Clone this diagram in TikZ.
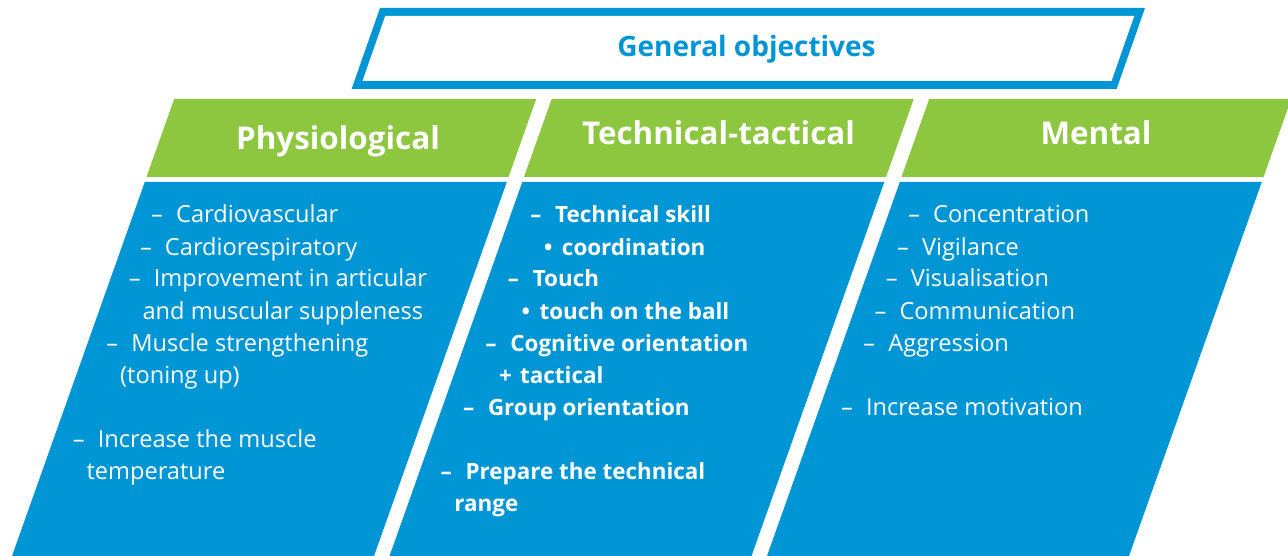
\documentclass[tikz,border=0pt]{standalone}
\usepackage{fontspec}
\setmainfont{Open Sans}
\definecolor{fblue}{RGB}{0,150,214}
\definecolor{fgreen}{RGB}{141,198,63}
\newcommand\dsh{\makebox[23pt][l]{\hspace{-2pt}–}}
\newcommand\blt{\makebox[18pt][l]{•}}
\newcommand\pls{\makebox[21pt][l]{+}}
\begin{document}
\begin{tikzpicture}[x=1pt,y=-1pt,
  body/.style={anchor=base west, inner sep=0pt, text=white, font=\fontsize{23.6}{28}\selectfont},
  bodyb/.style={body, font=\fontsize{22.4}{28}\selectfont\bfseries},
  head/.style={anchor=base, inner sep=0pt, text=white, font=\fontsize{31.4}{36}\selectfont\bfseries},
  title/.style={anchor=base, inner sep=0pt, text=fblue, font=\fontsize{28}{32}\selectfont\bfseries}]
\useasboundingbox (0,0) rectangle (1288,556);
\clip (0,0) rectangle (1288,556);
% title frame
\fill[fblue] (380,8) -- (1145,8) -- (1116.6,89) -- (351.6,89) -- cycle;
\fill[white] (385.2,16) -- (1134.2,16) -- (1111.5,81) -- (362.5,81) -- cycle;
\node[title] (gen) at (746.5,57) {General objectives};
% green headers
\fill[fgreen] (174.2,99) -- (536.2,99) -- (508.5,177) -- (146.5,177) -- cycle;
\fill[fgreen] (551.7,99) -- (913.7,99) -- (886,177) -- (524,177) -- cycle;
\fill[fgreen] (929.2,99) -- (1291.2,99) -- (1263.5,177) -- (901.5,177) -- cycle;
% blue bodies
\fill[fblue] (144.8,182) -- (506.8,182) -- (374,556) -- (12,556) -- cycle;
\fill[fblue] (522.3,182) -- (884.3,182) -- (751.5,556) -- (389.5,556) -- cycle;
\fill[fblue] (899.8,182) -- (1261.8,182) -- (1129,556) -- (767,556) -- cycle;
% headers
\node[head] (h1) at (338,150) {Physiological};
\node[head] (h2) at (718.5,145) {Technical-tactical};
\node[head] (h3) at (1096,145) {Mental};
% column 1
\node[body] (a0) at (153,223) {\dsh Cardiovascular};
\node[body] (a1) at (141.8,255) {\dsh Cardiorespiratory};
\node[body] (a2) at (130.6,287) {\dsh Improvement in articular};
\node[body] (a3) at (142.4,319) {and muscular suppleness};
\node[body] (a4) at (108.2,351) {\dsh Muscle strengthening};
\node[body] (a5) at (120,383) {(toning up)};
\node[body] (a7) at (74.6,447) {\dsh Increase the muscle};
\node[body] (a8) at (86.4,479) {temperature};
% column 2
\node[bodyb] (b0) at (532,223) {\dsh Technical skill};
\node[bodyb] (b1) at (543.8,255) {\blt coordination};
\node[bodyb] (b2) at (509.6,287) {\dsh Touch};
\node[bodyb] (b3) at (521.4,319) {\blt touch on the ball};
\node[bodyb] (b4) at (487.2,351) {\dsh Cognitive orientation};
\node[bodyb] (b5) at (499,383) {\pls tactical};
\node[bodyb] (b6) at (464.8,415) {\dsh Group orientation};
\node[bodyb] (b8) at (442.4,479) {\dsh Prepare the technical};
\node[bodyb] (b9) at (454.2,511) {range};
% column 3
\node[body] (c0) at (910,223) {\dsh Concentration};
\node[body] (c1) at (898.8,255) {\dsh Vigilance};
\node[body] (c2) at (887.6,287) {\dsh Visualisation};
\node[body] (c3) at (876.4,319) {\dsh Communication};
\node[body] (c4) at (865.2,351) {\dsh Aggression};
\node[body] (c6) at (842.8,415) {\dsh Increase motivation};
\end{tikzpicture}
\end{document}
